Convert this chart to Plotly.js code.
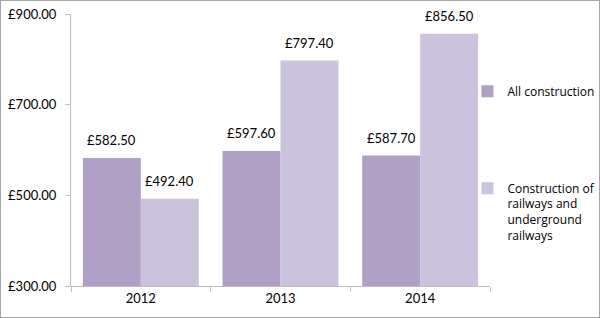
<!DOCTYPE html>
<html><head><meta charset="utf-8">
<script src="https://cdn.plot.ly/plotly-3.0.1.min.js"></script>
<style>html,body{margin:0;padding:0;background:#fff}#c{width:600px;height:318px;box-sizing:border-box;border:1px solid #a6a6a6}</style>
</head><body><div id="c"></div>
<script>
const years = ['2012','2013','2014'];
const allConstruction = [582.5, 597.6, 587.7];
const railways = [492.4, 797.4, 856.5];
const seriesNames = ['All construction', 'Construction of<br>railways and<br>underground<br>railways'];
const colors = ['#b0a0c6', '#cbc2dc'];
const labelFont = {family: 'Lato, "Open Sans", sans-serif', size: 13, color: '#000'};
function tr(vals, i){
  return {type:'bar', x: years, y: vals, name: seriesNames[i], legendgroup:'g'+i,
    marker:{color: colors[i]}, hoverinfo:'none'};
}
const data = [tr(allConstruction,0), tr(railways,1)];
const annotations = [];
[allConstruction, railways].forEach((vals, i) => {
  vals.forEach((v, k) => {
    annotations.push({x: k, y: v, xref:'x', yref:'y', text: '£' + v.toFixed(2),
      showarrow:false, yanchor:'bottom', xanchor:'center', xshift: i === 0 ? -29 : 29, yshift: 8,
      font: labelFont});
  });
});
const layout = {
  width: 598, height: 316,
  margin: {l: 70, r: 109, t: 13, b: 31, autoexpand: false},
  paper_bgcolor:'#fff', plot_bgcolor:'#fff',
  barmode:'group', bargap: 0.17, bargroupgap: 0,
  showlegend: true, annotations: annotations,
  legend: {xref:'container', yref:'container', x: 0.78, xanchor:'left', y: 0.76, yanchor:'top', tracegroupgap: 78,
    maxheight: 1, bgcolor:'rgba(0,0,0,0)',
    font:{family:'"Open Sans", sans-serif', size: 12, color:'#000'}, itemwidth: 30, valign:'top'},
  xaxis: {type:'category', range:[-0.5, 2.5], showline:true, linecolor:'#bfbfbf', linewidth:1, ticks:'outside', tickson:'boundaries',
    ticklen:5, tickcolor:'#bfbfbf', showgrid:false, tickfont: labelFont, zeroline:false},
  yaxis: {range:[300,900], dtick:200, tick0:300, tickprefix:'£', tickformat:'.2f', showline:true, linecolor:'#bfbfbf',
    ticks:'outside', ticklen:5, tickcolor:'#bfbfbf', showgrid:false, zeroline:false, tickfont: labelFont, ticklabelstandoff: 6}
};
Plotly.newPlot('c', data, layout, {staticPlot:true});
</script></body></html>
